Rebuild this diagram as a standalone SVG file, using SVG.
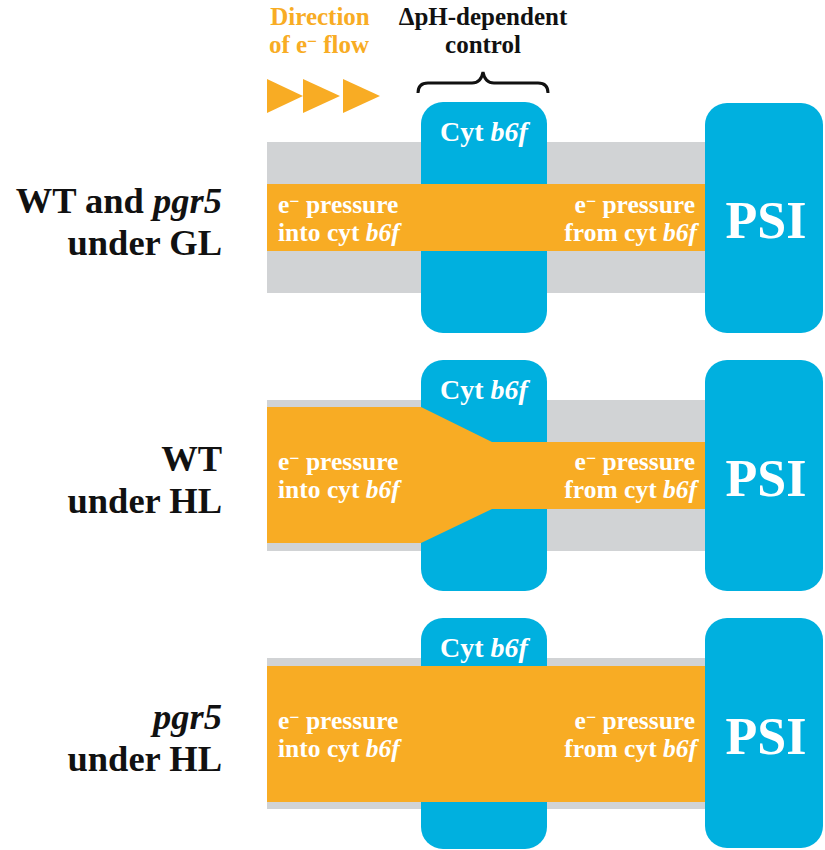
<svg xmlns="http://www.w3.org/2000/svg" width="825" height="850" viewBox="0 0 825 850">
  <style>
    .serif { font-family: "Liberation Serif", "DejaVu Serif", serif; font-weight: bold; }
    .band { fill: #D1D3D5; }
    .flow { fill: #F8AC24; }
    .complex { fill: #00B0DF; }
    .row-label { font-size: 36.5px; fill: #111111; text-anchor: end; }
    .flow-label { font-size: 25.5px; fill: #FFFFFF; }
    .cyt-label { font-size: 28px; fill: #FFFFFF; text-anchor: middle; }
    .psi-label { font-size: 52px; fill: #FFFFFF; text-anchor: middle; }
    .head { font-size: 25px; text-anchor: middle; }
    .sup { font-size: 70%; }
  </style>

  <!-- header: flow direction legend and control bracket -->
  <g id="legend-direction" class="serif">
    <text class="head" x="320" y="25" fill="#F8AC24">Direction</text>
    <text class="head" x="319" y="53" fill="#F8AC24">of e<tspan class="sup" baseline-shift="35%">−</tspan> flow</text>
    <polygon class="flow" points="267,79 303,96 267,113"/>
    <polygon class="flow" points="303,79 340,96 303,113"/>
    <polygon class="flow" points="343,79 380,96 343,113"/>
  </g>
  <g id="legend-control" class="serif">
    <text class="head" x="483" y="25" fill="#111111">ΔpH-dependent</text>
    <text class="head" x="483" y="53" fill="#111111">control</text>
    <path d="M418,93 Q418,83 428,83 L472,83 Q481,83 483,72 Q485,83 494,83 L538,83 Q548,83 548,93" fill="none" stroke="#111111" stroke-width="3"/>
  </g>

  <!-- membrane bands -->
  <g id="membranes">
    <rect class="band" x="267" y="142" width="445" height="151"/>
    <rect class="band" x="267" y="400" width="445" height="151"/>
    <rect class="band" x="267" y="658" width="445" height="151"/>
  </g>

  <!-- cytochrome b6f complexes -->
  <g id="cyt-gl">
    <rect class="complex" x="421" y="102" width="126" height="231" rx="22"/>
  </g>
  <g id="cyt-wt-hl">
    <rect class="complex" x="421" y="360" width="126" height="231" rx="22"/>
  </g>
  <g id="cyt-pgr5-hl">
    <rect class="complex" x="421" y="618" width="126" height="231" rx="22"/>
  </g>

  <!-- electron pressure flows -->
  <g id="flows">
    <rect class="flow" x="267" y="184" width="443" height="67"/>
    <path class="flow" d="M267,407 L421,407 L492,442 L710,442 L710,509 L492,509 L421,543 L267,543 Z"/>
    <rect class="flow" x="267" y="666" width="443" height="136"/>
  </g>

  <!-- photosystem I -->
  <g id="psi-gl">
    <rect class="complex" x="705" y="103" width="118" height="230" rx="22"/>
    <text class="serif psi-label" x="766" y="238">PSI</text>
  </g>
  <g id="psi-wt-hl">
    <rect class="complex" x="705" y="360" width="118" height="231" rx="22"/>
    <text class="serif psi-label" x="766" y="496">PSI</text>
  </g>
  <g id="psi-pgr5-hl">
    <rect class="complex" x="705" y="618" width="118" height="230" rx="22"/>
    <text class="serif psi-label" x="766" y="754">PSI</text>
  </g>

  <!-- complex titles -->
  <g id="cyt-titles" class="serif">
    <text class="cyt-label" x="484" y="141">Cyt <tspan font-style="italic">b6f</tspan></text>
    <text class="cyt-label" x="484" y="399">Cyt <tspan font-style="italic">b6f</tspan></text>
    <text class="cyt-label" x="484" y="657">Cyt <tspan font-style="italic">b6f</tspan></text>
  </g>

  <!-- flow labels -->
  <g id="flow-labels" class="serif">
    <text class="flow-label" x="278" y="213">e<tspan class="sup" baseline-shift="35%">−</tspan> pressure</text>
    <text class="flow-label" x="278" y="241">into cyt <tspan font-style="italic">b6f</tspan></text>
    <text class="flow-label" x="695" y="213" text-anchor="end">e<tspan class="sup" baseline-shift="35%">−</tspan> pressure</text>
    <text class="flow-label" x="697" y="241" text-anchor="end">from cyt <tspan font-style="italic">b6f</tspan></text>

    <text class="flow-label" x="278" y="470">e<tspan class="sup" baseline-shift="35%">−</tspan> pressure</text>
    <text class="flow-label" x="278" y="498">into cyt <tspan font-style="italic">b6f</tspan></text>
    <text class="flow-label" x="695" y="470" text-anchor="end">e<tspan class="sup" baseline-shift="35%">−</tspan> pressure</text>
    <text class="flow-label" x="697" y="498" text-anchor="end">from cyt <tspan font-style="italic">b6f</tspan></text>

    <text class="flow-label" x="278" y="729">e<tspan class="sup" baseline-shift="35%">−</tspan> pressure</text>
    <text class="flow-label" x="278" y="757">into cyt <tspan font-style="italic">b6f</tspan></text>
    <text class="flow-label" x="695" y="729" text-anchor="end">e<tspan class="sup" baseline-shift="35%">−</tspan> pressure</text>
    <text class="flow-label" x="697" y="757" text-anchor="end">from cyt <tspan font-style="italic">b6f</tspan></text>
  </g>

  <!-- row labels -->
  <g id="row-labels" class="serif">
    <text class="row-label" x="222" y="213">WT and <tspan font-style="italic">pgr5</tspan></text>
    <text class="row-label" x="222" y="255">under GL</text>
    <text class="row-label" x="222" y="471">WT</text>
    <text class="row-label" x="222" y="513">under HL</text>
    <text class="row-label" x="222" y="729"><tspan font-style="italic">pgr5</tspan></text>
    <text class="row-label" x="222" y="771">under HL</text>
  </g>
</svg>
